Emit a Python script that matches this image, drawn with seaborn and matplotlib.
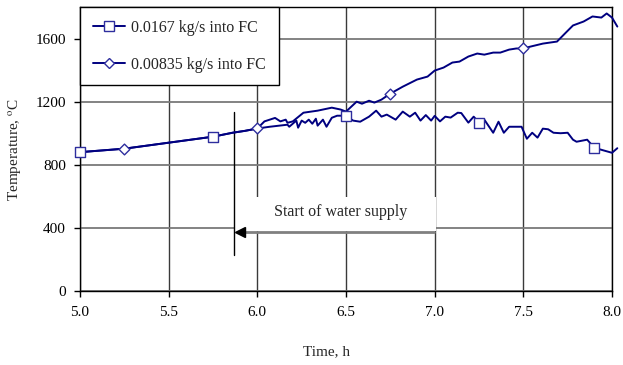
import matplotlib
matplotlib.use("Agg")
import matplotlib.pyplot as plt
import numpy as np
import pandas as pd
import seaborn as sns
from matplotlib.lines import Line2D
from matplotlib.patches import Rectangle

# ---- data ----
time_a = [5.00, 5.25, 5.50, 5.75, 5.86, 5.93, 6.00, 6.07, 6.17, 6.18, 6.22, 6.23,
          6.25, 6.27, 6.29, 6.31, 6.33, 6.34, 6.37, 6.39, 6.42, 6.45, 6.50, 6.54,
          6.58, 6.63, 6.67, 6.70, 6.73, 6.78, 6.82, 6.86, 6.89, 6.92, 6.95, 6.98,
          7.00, 7.03, 7.06, 7.09, 7.13, 7.15, 7.19, 7.22, 7.25, 7.28, 7.33, 7.36,
          7.39, 7.42, 7.46, 7.49, 7.52, 7.55, 7.58, 7.61, 7.64, 7.67, 7.71, 7.75,
          7.78, 7.80, 7.86, 7.90, 7.94, 8.00, 8.03]
temp_a = [880, 902, 940, 978, 1003, 1015, 1030, 1041, 1054, 1041, 1080, 1035,
          1080, 1066, 1086, 1060, 1092, 1048, 1086, 1041, 1098, 1111, 1111, 1080,
          1073, 1105, 1143, 1105, 1118, 1086, 1137, 1105, 1130, 1080, 1115, 1080,
          1110, 1075, 1105, 1099, 1130, 1128, 1067, 1105, 1067, 1086, 1003, 1073,
          1003, 1041, 1041, 1041, 965, 1003, 972, 1029, 1025, 1003, 1000, 1003,
          959, 946, 959, 908, 895, 876, 905]

time_b = [5.00, 5.25, 5.50, 5.75, 5.86, 5.93, 6.00, 6.04, 6.10, 6.13, 6.16, 6.17,
          6.20, 6.26, 6.34, 6.42, 6.47, 6.50, 6.56, 6.59, 6.63, 6.66, 6.70, 6.75,
          6.82, 6.90, 6.96, 7.00, 7.05, 7.10, 7.14, 7.19, 7.24, 7.28, 7.33, 7.37,
          7.42, 7.46, 7.50, 7.54, 7.61, 7.69, 7.74, 7.78, 7.84, 7.89, 7.94, 7.97,
          8.00, 8.03]
temp_b = [880, 902, 940, 978, 1003, 1015, 1030, 1075, 1097, 1075, 1086, 1066,
          1075, 1130, 1143, 1162, 1150, 1137, 1200, 1187, 1206, 1194, 1213, 1251,
          1295, 1340, 1359, 1397, 1416, 1448, 1454, 1486, 1505, 1498, 1511, 1511,
          1530, 1537, 1537, 1549, 1568, 1581, 1638, 1683, 1708, 1740, 1733, 1759,
          1733, 1676]

sq_time = [5.00, 5.75, 6.50, 7.25, 7.90]
sq_temp = [880, 978, 1111, 1067, 908]
di_time = [5.25, 6.00, 6.75, 7.50]
di_temp = [902, 1030, 1251, 1537]

series_labels = ["0.0167 kg/s into FC", "0.00835 kg/s into FC"]
x_ticks = [5.0, 5.5, 6.0, 6.5, 7.0, 7.5, 8.0]
y_ticks = [0, 400, 800, 1200, 1600]
note_text = "Start of water supply"
supply_time = 5.87

# ---- style ----
sns.set_style("white")
plt.rcParams["font.family"] = ["Liberation Serif", "DejaVu Serif"]
plt.rcParams["mathtext.fontset"] = "stix"

navy = "#000080"
mk_edge = "#2e2e9e"

fig = plt.figure(figsize=(6.23, 3.65), dpi=100)
ax = fig.add_axes([80 / 623, 1 - 291 / 365, 532 / 623, 284 / 365])

df_a = pd.DataFrame({"t": time_a, "T": temp_a})
df_b = pd.DataFrame({"t": time_b, "T": temp_b})

sns.lineplot(data=df_a, x="t", y="T", ax=ax, color=navy, lw=1.4, sort=False,
             estimator=None, clip_on=False, zorder=3)
sns.lineplot(data=df_b, x="t", y="T", ax=ax, color=navy, lw=1.4, sort=False,
             estimator=None, clip_on=False, zorder=3)

sns.scatterplot(x=sq_time, y=sq_temp, ax=ax, marker="s", s=55, facecolor="white",
                edgecolor=mk_edge, linewidth=1.0, zorder=4, clip_on=False)
sns.scatterplot(x=di_time, y=di_temp, ax=ax, marker="D", s=30, facecolor="white",
                edgecolor=mk_edge, linewidth=1.0, zorder=4, clip_on=False)

ax.set_xlim(5.0, 8.0)
ax.set_ylim(0, 1800)
ax.set_xticks(x_ticks)
ax.set_xticklabels([f"{v:.1f}" for v in x_ticks])
ax.set_yticks(y_ticks)
ax.set_yticklabels([str(v) for v in y_ticks])

ax.set_axisbelow(True)
ax.yaxis.grid(True, color="#7a7a7a", lw=1.3)
ax.xaxis.grid(True, color="#3a3a3a", lw=1.0)

for sp in ax.spines.values():
    sp.set_visible(True)
    sp.set_color("black")
    sp.set_linewidth(1.0)

ax.tick_params(axis="both", which="both", bottom=True, left=True, direction="out",
               length=4, width=1, colors="black", labelsize=11)
ax.tick_params(axis="x", pad=7)
ax.tick_params(axis="y", pad=6)

ax.set_xlabel("Time, h", fontsize=11)
ax.set_ylabel(r"Temperature, $^{\rm o}$C", fontsize=11)
ax.xaxis.set_label_coords(0.464, -0.19)
ax.yaxis.set_label_coords(-0.105, 0.5)

# white box behind annotation text
ax.add_patch(Rectangle((supply_time, 381), 7.005 - supply_time, 216,
                       facecolor="white", edgecolor="none", zorder=1))
ax.text(6.47, 502, note_text, ha="center", va="center", fontsize=11.5, zorder=2)

# vertical marker line and arrow
ax.plot([supply_time, supply_time], [229, 1137], color="black", lw=1.0, zorder=2)
ax.plot([5.93, 6.997], [375, 375], color="#808080", lw=2.0, zorder=2)
ax.plot([5.905], [375], marker="<", markersize=7, color="black", zorder=2,
        linestyle="none")

handles = [
    Line2D([], [], color=navy, lw=1.4, marker="s", markersize=7.5,
           markerfacecolor="white", markeredgecolor=mk_edge),
    Line2D([], [], color=navy, lw=1.4, marker="D", markersize=5,
           markerfacecolor="white", markeredgecolor=mk_edge),
]
leg = ax.legend(handles, series_labels, loc="upper left", bbox_to_anchor=(0, 1),
                borderaxespad=0, frameon=True, fancybox=False, fontsize=11.5,
                labelspacing=1.3, handlelength=2.0, handletextpad=0.4,
                borderpad=0.8, edgecolor="black", framealpha=1)
leg.get_frame().set_linewidth(1.0)
leg.set_zorder(6)

fig.savefig("out.png", dpi=100)
